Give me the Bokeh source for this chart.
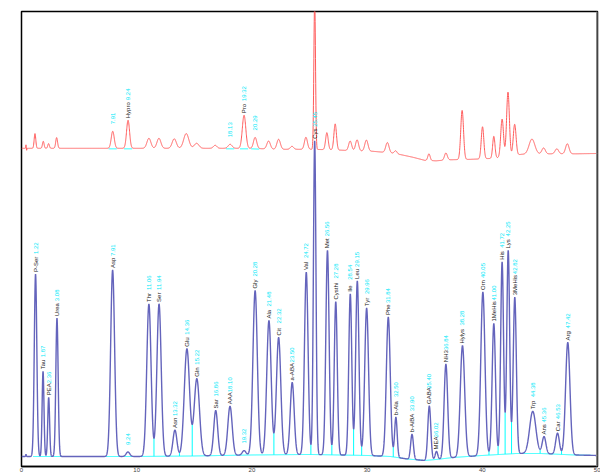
import numpy as np
from bokeh.plotting import figure
from bokeh.models import Range1d, FixedTicker, Span
from bokeh.embed import file_html
from bokeh.resources import INLINE
from bokeh.core.properties import value

# ---------------- data ----------------
# lower (blue) chromatogram: retention time (min), peak height, peak width (sigma), name
blue_rt = [0.39, 1.22, 1.87, 2.36, 3.08, 7.91, 9.24, 11.06, 11.94, 13.32, 14.36, 15.22,
           16.86, 18.10, 19.32, 20.28, 21.48, 22.32, 23.50, 24.72, 25.45, 26.56, 27.28,
           28.54, 29.15, 29.96, 31.84, 32.50, 33.90, 35.40, 36.02, 36.84, 38.28, 40.05,
           41.00, 41.72, 42.25, 42.82, 44.38, 45.36, 46.53, 47.42]
blue_height = [2, 182, 85, 59, 138, 186, 4.5, 152, 152, 26, 107, 77,
               45, 49, 4.5, 164, 134, 117, 72, 182, 313, 204, 153,
               161, 174, 147, 139, 40, 25, 54, 8, 94, 111, 163,
               131, 192, 203, 156, 42, 17, 21, 112]
blue_sigma = [0.03, 0.11, 0.08, 0.08, 0.10, 0.17, 0.16, 0.185, 0.185, 0.17, 0.23, 0.23,
              0.17, 0.19, 0.16, 0.19, 0.19, 0.19, 0.17, 0.155, 0.11, 0.14, 0.13,
              0.13, 0.14, 0.165, 0.17, 0.11, 0.12, 0.13, 0.11, 0.155, 0.19, 0.18,
              0.145, 0.125, 0.125, 0.135, 0.27, 0.16, 0.16, 0.19]
blue_name = [None, "P-Ser", "Tau", "PEA", "Urea", "Asp", "", "Thr", "Ser", "Asn", "Glu", "Gln",
             "Sar", "AAA", "", "Gly", "Ala", "Cit", "a-ABA", "Val", "Cys", "Met", "Cysthi",
             "Ile", "Leu", "Tyr", "Phe", "b-Ala", "b-AiBA", "GABA", "MEA", "NH3", "Hylys", "Orn",
             "1MeHis", "His", "Lys", "3MeHis", "Trp", "Ans", "Car", "Arg"]
blue_base_x = [0, 10, 15, 20, 25, 30, 32, 33.5, 35, 36, 37.5, 40, 43, 45, 48, 50]
blue_base_y = [0, 0, 0.5, 1.5, 2, 1, 0, -2.5, -4, -3, -1, 1, 3, 3, 1.5, 1]

# upper (red) chromatogram
red_rt = [0.39, 0.45, 1.17, 1.89, 2.35, 3.05, 7.92, 9.25, 11.06, 11.93, 13.26, 14.30,
          15.20, 16.81, 18.11, 19.32, 20.28, 21.45, 22.32, 23.48, 24.69, 25.45, 26.51,
          27.23, 28.53, 29.13, 29.94, 31.76, 32.48, 35.37, 36.84, 38.25, 40.02, 41.00,
          41.72, 42.23, 42.81, 44.31, 45.32, 46.47, 47.38]
red_height = [3.5, -2, 14.7, 7, 4.7, 10.7, 17, 28, 10, 10, 9.5, 14.7,
              5, 3, 4, 33, 11, 8, 10, 3, 12, 150, 17,
              26, 9.5, 11, 11, 10, 3, 6.7, 7, 49, 32, 22,
              38, 64, 31, 15, 6, 5, 10]
red_sigma = [0.02, 0.02, 0.07, 0.07, 0.07, 0.08, 0.13, 0.13, 0.17, 0.17, 0.18, 0.22,
             0.20, 0.15, 0.17, 0.15, 0.14, 0.15, 0.15, 0.14, 0.13, 0.07, 0.11,
             0.11, 0.13, 0.13, 0.14, 0.14, 0.12, 0.10, 0.12, 0.12, 0.11, 0.10,
             0.12, 0.12, 0.12, 0.25, 0.15, 0.15, 0.15]
red_base_x = [0, 20, 22, 25, 27, 29, 30.5, 32, 33, 34, 35, 36, 37, 39, 41, 43.4, 46, 48, 50]
red_base_y = [307.5, 307.5, 306.5, 306.5, 306, 305, 304.5, 303, 301, 298.5, 295.5, 295,
              296, 296.5, 297.5, 301.5, 302, 302, 302.3]
red_label_rt = [7.92, 9.25, 18.11, 19.32, 20.28]
red_label_name = ["", "Hypro", "", "Pro", ""]
red_label_num = ["7.91", "9.24", "18.13", "19.32", "20.29"]

x_ticks = [0, 10, 20, 30, 40, 50]

# ---------------- build traces ----------------
x = np.linspace(0, 50, 5001)


def build(rts, hs, ss, bx, by):
    base = np.interp(x, bx, by)
    y = base.copy()
    for r, h, s in zip(rts, hs, ss):
        y += h * np.exp(-0.5 * ((x - r) / s) ** 2)
    return base, y


blue_base, blue_y = build(blue_rt, blue_height, blue_sigma, blue_base_x, blue_base_y)
red_base, red_y = build(red_rt, red_height, red_sigma, red_base_x, red_base_y)

FONT = value("Liberation Sans")
FS = 6
CHAR = 3.0   # approx px per character at FS


def text_w(s):
    return CHAR * len(s)


p = figure(width=600, height=474, x_range=Range1d(0, 50), y_range=Range1d(-10, 444),
           output_backend="svg", toolbar_location=None,
           min_border_left=21, min_border_right=3, min_border_top=11, min_border_bottom=0)
p.background_fill_color = "white"
p.grid.visible = False
p.yaxis.visible = False
p.outline_line_color = "black"
p.outline_line_width = 1.5
p.xaxis.ticker = FixedTicker(ticks=x_ticks)
p.xaxis.major_label_text_font_size = "6px"
p.xaxis.major_label_text_font = "Liberation Sans"
p.xaxis.major_tick_line_color = None
p.xaxis.major_tick_out = 0
p.xaxis.major_tick_in = 0
p.xaxis.minor_tick_line_color = None
p.xaxis.minor_tick_out = 0
p.xaxis.major_label_standoff = 1
p.xaxis.axis_line_color = "black"
p.xaxis.axis_line_width = 1.5

# red trace and its cyan baseline pieces
p.line(x, red_y, line_color="#ff5a5a", line_width=1)
for r in red_label_rt:
    seg = (x >= r - 0.35) & (x <= r + 0.35)
    p.line(x[seg], red_base[seg] - 0.5, line_color="#00ffff", line_width=1)

# cyan baseline under blue trace
seg = (x >= 1.0) & (x <= 49.6)
p.line(x[seg], blue_base[seg], line_color="#00ffff", line_width=1)

# cyan drop lines at valleys between adjacent blue peaks
xs, ys = [], []
order = np.argsort(blue_rt)
for i in range(1, len(order) - 1):
    a, b = blue_rt[order[i]], blue_rt[order[i + 1]]
    m = (x > a) & (x < b)
    if not m.any():
        continue
    diff = (blue_y - blue_base)[m]
    k = np.argmin(diff)
    if diff[k] > 3:
        xv = x[m][k]
        xs.append([xv, xv])
        ys.append([blue_base[m][k], blue_y[m][k]])
p.multi_line(xs, ys, line_color="#00ffff", line_width=1)

# blue trace
p.line(x, blue_y, line_color="#6464bc", line_width=1.4)

# right gray border
p.add_layout(Span(location=50, dimension="height", line_color="#888888", line_width=3))

# ---------------- labels ----------------
scale = 454.0 / 454.0  # px per data unit vertically
nx, ny, nt, vx, vy, vt = [], [], [], [], [], []
for r, name in zip(blue_rt, blue_name):
    if name is None:
        continue
    apex = float(np.interp(r, x, blue_y))
    num = f"{r:.2f}"
    if name:
        nx.append(r); ny.append(apex + 2 / scale); nt.append(name)
        vx.append(r); vy.append(apex + (2 + text_w(name) + 3) / scale); vt.append(num)
    else:
        vx.append(r); vy.append(apex + 7 / scale); vt.append(num)
for r, name, num in zip(red_label_rt, red_label_name, red_label_num):
    apex = float(np.interp(r, x, red_y))
    if name:
        nx.append(r); ny.append(apex + 2 / scale); nt.append(name)
        vx.append(r); vy.append(apex + (2 + text_w(name) + 3) / scale); vt.append(num)
    else:
        vx.append(r); vy.append(apex + 7 / scale); vt.append(num)

p.text(x=nx, y=ny, text=nt, angle=np.pi / 2, text_align="left", text_baseline="middle",
       text_font=FONT, text_font_size=f"{FS}px", text_color="#202020")
p.text(x=vx, y=vy, text=vt, angle=np.pi / 2, text_align="left", text_baseline="middle",
       text_font=FONT, text_font_size=f"{FS}px", text_color="#00e8f8")

open("out.html", "w").write(file_html(p, INLINE))
